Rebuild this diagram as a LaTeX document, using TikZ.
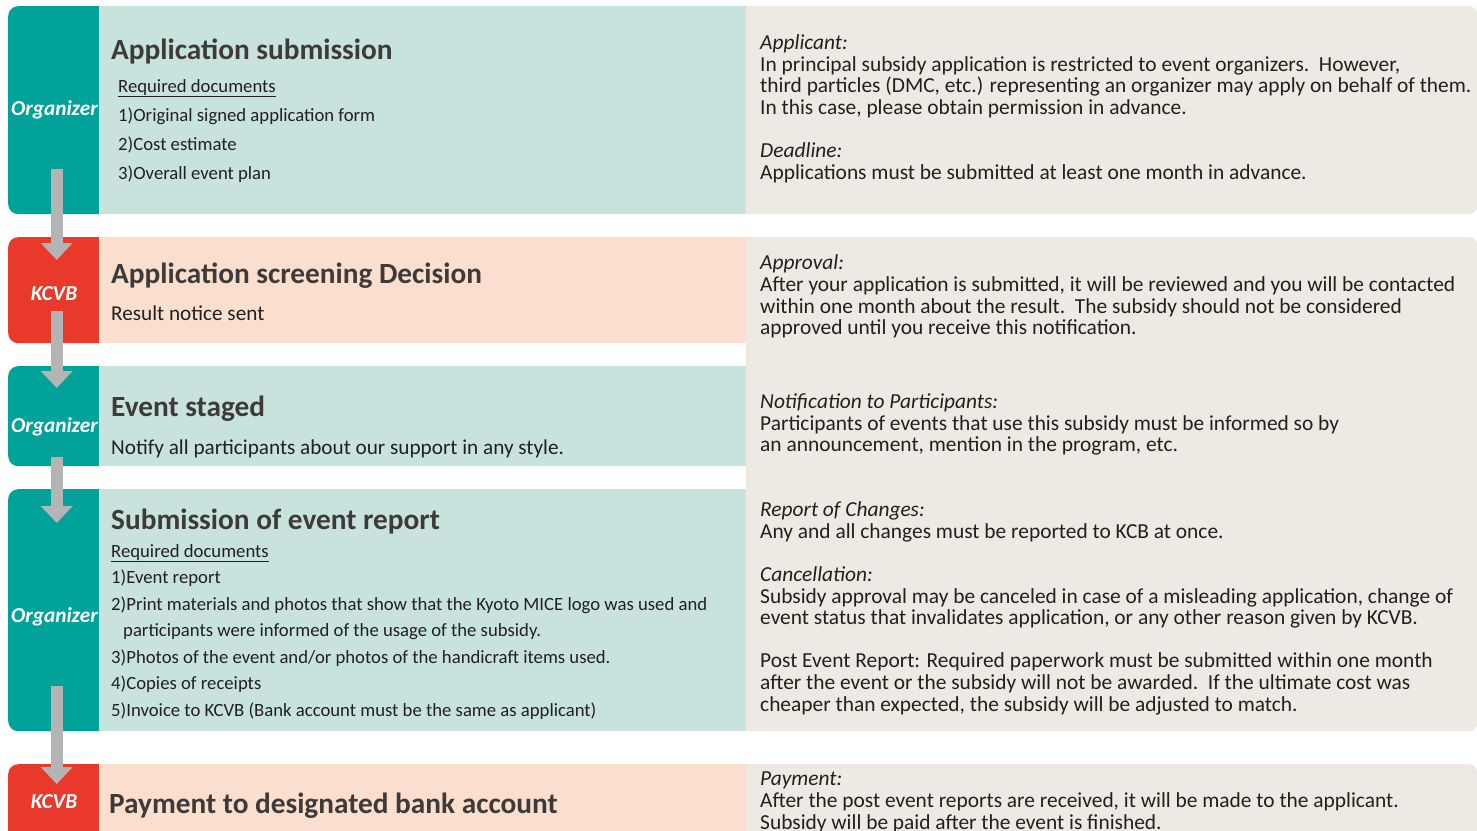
\documentclass[tikz,border=0pt]{standalone}
\usepackage{fontspec}
\setmainfont{Carlito}
\usetikzlibrary{arrows.meta}
\definecolor{tealdark}{HTML}{00A29A}
\definecolor{redtab}{HTML}{E8392A}
\definecolor{teallight}{HTML}{C8E3DE}
\definecolor{peach}{HTML}{FADFCF}
\definecolor{beige}{HTML}{EEE9E3}
\definecolor{arrowgray}{HTML}{B4B4B4}
\definecolor{headgray}{HTML}{3E3A39}
\definecolor{textblack}{HTML}{231F20}
\begin{document}
\begin{tikzpicture}[x=1pt,y=-1pt]
			
			\tikzstyle{tab} = [rectangle, rounded corners=10pt, inner sep=0pt, anchor=north west, minimum width=101pt]
			\tikzstyle{organizer} = [tab, fill=tealdark]
			\tikzstyle{kcvb} = [tab, fill=redtab]
			\tikzstyle{panel} = [rectangle, inner sep=0pt, anchor=north west, minimum width=647pt]
			\tikzstyle{note} = [rectangle, rounded corners=8pt, inner sep=0pt, anchor=north west, minimum width=741pt, fill=beige]
			\tikzstyle{who} = [anchor=base, text=white, font=\fontsize{21.3}{24}\selectfont\bfseries\itshape]
			\tikzstyle{title} = [anchor=base west, inner sep=0pt, text=headgray, font=\fontsize{29.3}{32}\selectfont\bfseries]
			\tikzstyle{body} = [anchor=base west, inner sep=0pt, align=left, text=textblack]
			\tikzstyle{notetext} = [anchor=base west, inner sep=0pt, align=left, text=textblack, font=\fontsize{21.4}{21.6}\selectfont]
			\tikzstyle{arrow} = [line width=12pt, draw=arrowgray, -{Triangle[width=31pt,length=17pt]}]
			
			\clip (0,0) rectangle (1477,830);
			
			\node (tabA) [organizer, minimum height=208pt] at (8,6) {};
			\node (tabB) [kcvb, minimum height=106pt] at (8,237) {};
			\node (tabC) [organizer, minimum height=100pt] at (8,366) {};
			\node (tabD) [organizer, minimum height=242pt] at (8,489) {};
			\node (tabE) [kcvb, minimum height=90pt] at (8,764) {};
			
			\node (panelA) [panel, fill=teallight, minimum height=208pt] at (99,6) {};
			\node (panelB) [panel, fill=peach, minimum height=106pt] at (99,237) {};
			\node (panelC) [panel, fill=teallight, minimum height=100pt] at (99,366) {};
			\node (panelD) [panel, fill=teallight, minimum height=242pt] at (99,489) {};
			\node (panelE) [panel, fill=peach, minimum height=90pt] at (99,764) {};
			
			\begin{scope}
				\clip (746,0) rectangle (1477,830);
				\node (noteA) [note, minimum height=208pt] at (736,6) {};
				\node (noteB) [note, minimum height=494pt] at (736,237) {};
				\node (noteC) [note, minimum height=90pt] at (736,764) {};
			\end{scope}
			
			\node (whoA) [who] at (54.5,115) {Organizer};
			\node (whoB) [who] at (54,300) {KCVB};
			\node (whoC) [who] at (54.5,432) {Organizer};
			\node (whoD) [who] at (54.5,622) {Organizer};
			\node (whoE) [who] at (54,808) {KCVB};
			
			\node (titleA) [title] at (111,59) {Application submission};
			\node (docsA) [body, font=\fontsize{18.7}{29}\selectfont] at (118,179) {\underline{Required documents}\\1)Original signed application form\\2)Cost estimate\\3)Overall event plan};
			\node (titleB) [title] at (111,283) {Application screening Decision};
			\node (textB) [body, font=\fontsize{21.2}{24}\selectfont] at (111,320) {Result notice sent};
			\node (titleC) [title] at (111,416) {Event staged};
			\node (textC) [body, font=\fontsize{21.2}{24}\selectfont] at (111,454) {Notify all participants about our support in any style.};
			\node (titleD) [title] at (111,529) {Submission of event report};
			\node (docsD) [body, font=\fontsize{18.7}{26.5}\selectfont] at (111,716) {\underline{Required documents}\\1)Event report\\2)Print materials and photos that show that the Kyoto MICE logo was used and\\\hspace*{12pt}participants were informed of the usage of the subsidy.\\3)Photos of the event and/or photos of the handicraft items used.\\4)Copies of receipts\\5)Invoice to KCVB (Bank account must be the same as applicant)};
			\node (titleE) [title] at (109,813) {Payment to designated bank account};
			
			\node (infoA) [notetext] at (760,179) {\textit{Applicant:}\\In principal subsidy application is restricted to event organizers.\ \ However,\\third particles (DMC, etc.) representing an organizer may apply on behalf of them.\\In this case, please obtain permission in advance.\\[21.6pt]\textit{Deadline:}\\Applications must be submitted at least one month in advance.};
			\node (infoB) [notetext] at (760,711) {\textit{Approval:}\\After your application is submitted, it will be reviewed and you will be contacted\\within one month about the result.\ \ The subsidy should not be considered\\approved until you receive this notification.\\[52.4pt]\textit{Notification to Participants:}\\Participants of events that use this subsidy must be informed so by\\an announcement, mention in the program, etc.\\[43.2pt]\textit{Report of Changes:}\\Any and all changes must be reported to KCB at once.\\[21.6pt]\textit{Cancellation:}\\Subsidy approval may be canceled in case of a misleading application, change of\\event status that invalidates application, or any other reason given by KCVB.\\[21.6pt]Post Event Report: Required paperwork must be submitted within one month\\after the event or the subsidy will not be awarded.\ \ If the ultimate cost was\\cheaper than expected, the subsidy will be adjusted to match.};
			\node (infoC) [notetext] at (760,829) {\textit{Payment:}\\After the post event reports are received, it will be made to the applicant.\\Subsidy will be paid after the event is finished.};
			
			\draw [arrow] ([xshift=-2pt,yshift=45pt]tabA.south) -- ([xshift=-2pt,yshift=-23pt]tabB.north);
			\draw [arrow] ([xshift=-2pt,yshift=32pt]tabB.south) -- ([xshift=-2pt,yshift=-22pt]tabC.north);
			\draw [arrow] ([xshift=-2pt,yshift=9pt]tabC.south) -- ([xshift=-2pt,yshift=-34pt]tabD.north);
			\draw [arrow] ([xshift=-2pt,yshift=45pt]tabD.south) -- ([xshift=-2pt,yshift=-20pt]tabE.north);
			
		\end{tikzpicture}
\end{document}
